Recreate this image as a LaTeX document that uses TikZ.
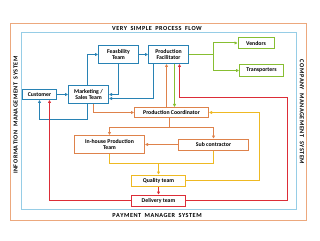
\documentclass[tikz,border=0pt]{standalone}
\usepackage{fontspec}
\setmainfont{Carlito}
\usetikzlibrary{arrows.meta}
\definecolor{cblue}{RGB}{40,130,180}
\definecolor{lblue}{RGB}{150,205,230}
\definecolor{corange}{RGB}{222,130,75}
\definecolor{lorange}{RGB}{236,168,125}
\definecolor{cgreen}{RGB}{135,190,50}
\definecolor{cyellow}{RGB}{238,185,35}
\definecolor{cred}{RGB}{220,45,55}
\begin{document}
\begin{tikzpicture}[x=1pt,y=-1pt,
  box/.style={draw=#1,fill=white,line width=1pt,inner sep=0pt,align=center,
    font=\fontsize{5.8}{6.4}\selectfont\bfseries},
  conn/.style={line width=1pt,-{Triangle[length=3pt,width=3pt]}},
  wire/.style={line width=1pt},
  frametxt/.style={font=\fontsize{6.2}{6.5}\selectfont\bfseries,inner sep=0pt}]
\useasboundingbox (0,0) rectangle (320,240);
% frames
\draw[lorange,line width=1pt] (10.5,23.5) rectangle (306.5,220.5);
\draw[lblue,line width=1pt] (21.5,32.5) rectangle (296.5,209.5);
\node[frametxt] (title) at (157,28) {V\kern.5pt E\kern.5pt R\kern.5pt Y\;\;S\kern.5pt I\kern.5pt M\kern.5pt P\kern.5pt L\kern.5pt E\;\;P\kern.5pt R\kern.5pt O\kern.5pt C\kern.5pt E\kern.5pt S\kern.5pt S\;\;F\kern.5pt L\kern.5pt O\kern.5pt W};
\node[frametxt] (pay) at (157,215.5) {P\kern.5pt A\kern.5pt Y\kern.5pt M\kern.5pt E\kern.5pt N\kern.5pt T\;\;M\kern.5pt A\kern.5pt N\kern.5pt A\kern.5pt G\kern.5pt E\kern.5pt R\;\;S\kern.5pt Y\kern.5pt S\kern.5pt T\kern.5pt E\kern.5pt M};
\node[frametxt,rotate=90] (info) at (15.5,115) {I\kern.5pt N\kern.5pt F\kern.5pt O\kern.5pt R\kern.5pt M\kern.5pt A\kern.5pt T\kern.5pt I\kern.5pt O\kern.5pt N\;\;M\kern.5pt A\kern.5pt N\kern.5pt A\kern.5pt G\kern.5pt E\kern.5pt M\kern.5pt E\kern.5pt N\kern.5pt T\;\;S\kern.5pt Y\kern.5pt S\kern.5pt T\kern.5pt E\kern.5pt M};
\node[frametxt,rotate=-90] (comp) at (302,112) {C\kern.5pt O\kern.5pt M\kern.5pt P\kern.5pt A\kern.5pt N\kern.5pt Y\;\;M\kern.5pt A\kern.5pt N\kern.5pt A\kern.5pt G\kern.5pt E\kern.5pt M\kern.5pt E\kern.5pt N\kern.5pt T\;\;S\kern.5pt Y\kern.5pt S\kern.5pt T\kern.5pt E\kern.5pt M};
% nodes
\node[box=cblue,minimum width=34pt,minimum height=10pt] (cust) at (39.5,94.5) {Customer};
\node[box=cblue,minimum width=40pt,minimum height=18pt] (mkt) at (88.5,94.5) {Marketing /\\Sales Team};
\node[box=cblue,minimum width=40pt,minimum height=18pt] (feas) at (118.5,54.5) {Feasbility\\Team};
\node[box=cblue,minimum width=40pt,minimum height=18pt] (fac) at (168.5,54.5) {Production\\Facilitator};
\node[box=cgreen,minimum width=36pt,minimum height=11pt] (ven) at (256,43) {Vendors};
\node[box=cgreen,minimum width=44pt,minimum height=12pt] (trans) at (261.5,70.5) {Transporters};
\node[box=corange,minimum width=74pt,minimum height=10pt] (coord) at (171.5,112.5) {Production Coordinator};
\node[box=corange,minimum width=70pt,minimum height=18pt] (inh) at (109.5,144.5) {In-house Production\\Team};
\node[box=corange,minimum width=70pt,minimum height=11pt] (sub) at (213.5,144.5) {Sub contractor};
\node[box=cyellow,minimum width=54pt,minimum height=11pt] (qual) at (158.5,180.5) {Quality team};
\node[box=cred,minimum width=54pt,minimum height=11pt] (del) at (158.5,200.5) {Delivery team};
% coordinates
\coordinate (g) at (213.5,54.5);
\coordinate (r1) at (287.5,97.5);
\coordinate (ycorner) at (259.5,112.5);
\coordinate (ob) at (169.5,127.5);
\coordinate (yb) at (158.5,163.5);
% blue connectors
\draw[conn,cblue] (cust) -- (mkt);
\draw[conn,cblue] ([xshift=-1pt]mkt.north) |- (feas.west);
\draw[conn,cblue] (feas.east) -- (fac.west);
\draw[conn,cblue] (feas.south) |- (mkt.east);
\draw[conn,cblue] ([xshift=-15pt]fac.south) |- ([yshift=-4pt]mkt.east);
\draw[conn,cblue] ([xshift=-1pt]mkt.south) -- ++(0,15) -| (cust.south);
% orange connectors
\draw[conn,corange] ([xshift=5pt]mkt.south) |- (coord.west);
\draw[conn,corange] ([xshift=-5pt]coord.north) -- ([xshift=-5pt]coord.north |- fac.south);
\draw[wire,corange] ([xshift=-2pt]coord.south) -- (ob);
\draw[conn,corange] (ob) -| (inh.north);
\draw[conn,corange] (ob) -| (sub.north);
\draw[conn,corange] (sub.west) -- (inh.east);
% green connectors
\draw[conn,cgreen] ([xshift=6pt]fac.south) -- ([xshift=6pt]fac.south |- coord.north);
\draw[wire,cgreen] (fac.east) -- (g);
\draw[conn,cgreen] (g) |- (ven.west);
\draw[conn,cgreen] (g) |- (trans.west);
% yellow connectors
\draw[conn,cyellow] (qual.east) -| (ycorner) -- (coord.east);
\draw[wire,cyellow] (inh.south) |- (yb);
\draw[wire,cyellow] (sub.south) |- (yb);
\draw[conn,cyellow] (yb) -- (qual.north);
% red connectors
\draw[conn,cred] (qual.south) -- (del.north);
\draw[conn,cred] (del.east) -| (r1) -| ([xshift=11pt]fac.south);
\draw[conn,cred] (del.west) -| ([xshift=10pt]cust.south);
\end{tikzpicture}
\end{document}
